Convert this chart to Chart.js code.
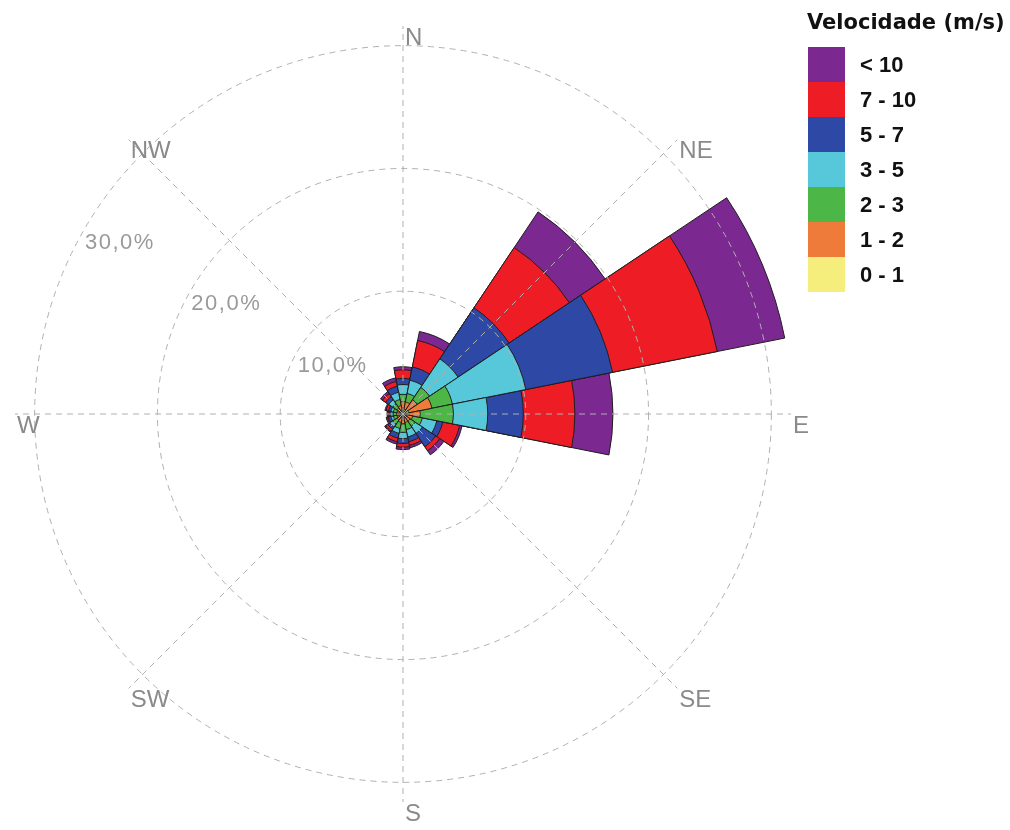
<!DOCTYPE html>
<html>
<head>
<meta charset="utf-8">
<script src="https://cdn.jsdelivr.net/npm/chart.js@4.4.1/dist/chart.umd.min.js"></script>
<style>
  html, body { margin: 0; padding: 0; background: #fff; }
  #wrap { position: relative; width: 1010px; height: 830px; }
  #legend { position: absolute; left: 0; top: 0; color: #111; }
  #legend .title { position: absolute; left: 807px; top: 10px; white-space: nowrap;
    font: bold 21px "DejaVu Sans", sans-serif; line-height: 24px; }
  #legend .rows { position: absolute; left: 808px; top: 47px; }
  #legend .row { display: flex; align-items: center; height: 35px; }
  #legend .sw { width: 37px; height: 35px; margin-right: 15px; }
  #legend .lbl { font: bold 22px "Liberation Sans", Arial, sans-serif; white-space: nowrap; }
</style>
</head>
<body>
<div id="wrap">
  <canvas id="rose"></canvas>
  <div id="legend"></div>
</div>
<script>
const directions = ['N', 'NNE', 'NE', 'ENE', 'E', 'ESE', 'SE', 'SSE',
                    'S', 'SSW', 'SW', 'WSW', 'W', 'WNW', 'NW', 'NNW'];
const compassPoints = ['N', 'NE', 'E', 'SE', 'S', 'SW', 'W', 'NW'];
const speedBins = ['0 - 1', '1 - 2', '2 - 3', '3 - 5', '5 - 7', '7 - 10', '< 10'];
const binColors = ['#f5ee7c', '#ef7b3b', '#4cb747', '#57c7da', '#2e48a6', '#ee1d25', '#7b2890'];
const ringValues = [10, 20, 30];
const ringLabels = ['10,0%', '20,0%', '30,0%'];

// frequency (%) per speed bin, one value per direction (N .. NNW)
const freq0_1   = [0.4, 0.4, 0.4, 0.5, 0.3, 0.3, 0.3, 0.3, 0.3, 0.3, 0.3, 0.3, 0.3, 0.3, 0.3, 0.3];
const freq1_2   = [0.6, 0.6, 1.0, 1.9, 1.1, 0.5, 0.4, 0.4, 0.5, 0.4, 0.3, 0.2, 0.2, 0.2, 0.3, 0.4];
const freq2_3   = [0.6, 0.7, 1.2, 1.7, 2.7, 0.8, 0.5, 0.6, 0.7, 0.5, 0.4, 0.3, 0.3, 0.3, 0.4, 0.5];
const freq3_5   = [0.8, 1.1, 2.8, 6.1, 2.8, 1.2, 0.7, 0.6, 0.5, 0.4, 0.3, 0.2, 0.2, 0.2, 0.4, 0.6];
const freq5_7   = [0.5, 1.1, 5.0, 7.2, 2.9, 0.5, 1.3, 0.4, 0.4, 0.4, 0.2, 0.2, 0.1, 0.2, 0.3, 0.5];
const freq7_10  = [0.7, 2.2, 5.9, 8.7, 4.2, 1.4, 0.4, 0.3, 0.3, 0.3, 0.2, 0.1, 0.1, 0.2, 0.3, 0.4];
const freqOver10 = [0.25, 0.75, 3.5, 5.6, 3.1, 0.2, 0.4, 0.2, 0.2, 0.2, 0.1, 0.1, 0.1, 0.1, 0.2, 0.3];

const bins = [freq0_1, freq1_2, freq2_3, freq3_5, freq5_7, freq7_10, freqOver10];

// stacked rose: each dataset is the cumulative total up to its bin,
// dataset 0 is painted last so the smallest stack sits on top
const datasets = bins.map((bin, k) => ({
  label: speedBins[k],
  data: directions.map((d, i) => bins.slice(0, k + 1).reduce((s, b) => s + b[i], 0)),
  backgroundColor: binColors[k],
  borderColor: '#1e1e1e',
  borderWidth: 1
}));

// 32 slots of 11.25 deg starting at -11.25 so that slot 1, 5, 9 ... fall on N, NE, E ...
const scaleSlots = Array.from({ length: 32 }, (_, i) => i % 4 === 1 ? compassPoints[(i - 1) / 4] : '');

const compassText = {
  id: 'compassText',
  afterDraw(chart) {
    const r = chart.scales.r;
    const ctx = chart.ctx;
    const at = (value, bearing) => {
      const d = r.getDistanceFromCenterForValue(value);
      const a = bearing * Math.PI / 180;
      return { x: r.xCenter + d * Math.sin(a), y: r.yCenter - d * Math.cos(a) };
    };
    ctx.save();
    ctx.textAlign = 'left';
    ctx.textBaseline = 'middle';
    ctx.fillStyle = '#8a8a8a';
    ctx.font = '24px "Liberation Sans", Arial, sans-serif';
    compassPoints.forEach((name, i) => {
      const p = at(r.max, i * 45);
      ctx.fillText(name, p.x + 2, p.y + 12);
    });
    ctx.fillStyle = '#9a9a9a';
    ctx.font = '22px "Liberation Sans", Arial, sans-serif';
    ctx.letterSpacing = '1.5px';
    ringValues.forEach((v, i) => {
      const p = at(v, 300);
      ctx.fillText(ringLabels[i], p.x + 1, p.y + 13);
    });
    ctx.restore();
  }
};

new Chart(document.getElementById('rose'), {
  type: 'polarArea',
  data: { labels: directions, datasets: datasets },
  options: {
    responsive: true,
    maintainAspectRatio: false,
    animation: false,
    layout: { padding: { left: 15, top: 26, right: 219, bottom: 28 } },
    plugins: { legend: { display: false }, tooltip: { enabled: false } },
    scales: {
      r: {
        startAngle: -11.25,
        labels: scaleSlots,
        min: 0,
        max: 31.6,
        bounds: 'data',
        ticks: { display: false, stepSize: 10, includeBounds: false, z: 1 },
        grid: {
          z: 1,
          circular: true,
          lineWidth: 1,
          color: c => c.tick && c.tick.value % 10 === 0 ? '#b0b0b0' : 'rgba(0,0,0,0)'
        },
        border: { dash: [6, 5] },
        angleLines: {
          display: true,
          color: '#b0b0b0',
          lineWidth: c => c.index % 4 === 1 ? 1 : 0,
          borderDash: [6, 5]
        },
        pointLabels: { display: false }
      }
    }
  },
  plugins: [compassText]
});

// legend, top row is the highest speed
const legend = document.getElementById('legend');
let html = '<div class="title">Velocidade (m/s)</div><div class="rows">';
for (let k = speedBins.length - 1; k >= 0; k--) {
  html += '<div class="row"><div class="sw" style="background:' + binColors[k] + '"></div>' +
          '<div class="lbl">' + speedBins[k] + '</div></div>';
}
legend.innerHTML = html + '</div>';
</script>
</body>
</html>
